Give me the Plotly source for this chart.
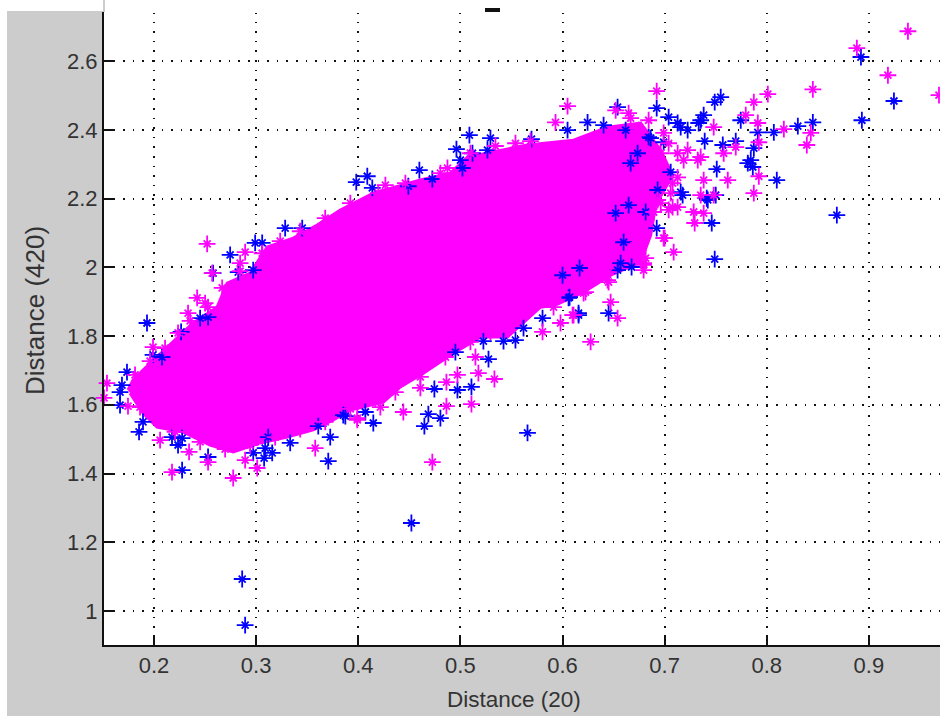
import plotly.graph_objects as go

x_label = "Distance (20)"
y_label = "Distance (420)"
x_ticks = [0.2, 0.3, 0.4, 0.5, 0.6, 0.7, 0.8, 0.9]
y_ticks = [1, 1.2, 1.4, 1.6, 1.8, 2, 2.2, 2.4, 2.6]
y_tick_text = ["1", "1.2", "1.4", "1.6", "1.8", "2", "2.2", "2.4", "2.6"]

BLUE = "#0000ff"
MAGENTA = "#ff00ff"

# Outline of the solid region where the points overlap completely
mass_x = [.1745,.1794,.1892,.2127,.2382,.2618,.2716,.2941,.3108,.3363,.3598,.3824,.4147,.4608,.4902,.5069,.5392,.5657,.6108,.6441,.6765,
          .6961,.7078,.6912,.6863,.6765,.6471,.6206,.5931,.5784,.5461,.5196,.4931,.4637,.4412,.4245,.3922,.3755,.3559,.3304,.3039,.2775,.2549,.2284,.2029,.1892,.1765]
mass_y = [1.643,1.672,1.701,1.768,1.838,1.884,1.954,1.983,2.059,2.085,2.123,2.167,2.216,2.254,2.274,2.321,2.341,2.356,2.370,2.408,2.420,
          2.341,2.268,2.181,2.094,2.015,1.977,1.928,1.890,1.884,1.797,1.797,1.750,1.692,1.652,1.608,1.585,1.556,1.527,1.506,1.489,1.463,1.483,1.521,1.535,1.576,1.634]

blue_x = [.1735,.1686,.1667,.1667,.1892,.1853,.1990,.2078,.2176,.2275,.2235,.2529,.2275,.2971,.3088,.3157,.3078,.3118,.3333,.3608,.3725,.3706,.3873,.4069,.4147,
          .1931,.2265,.2529,.2451,.2745,.2990,.3059,.3284,.3451,.2578,.2971,.2824,.3980,.4088,.4137,.4490,.4598,.4725,.4961,.5000,.5020,.5088,.5118,.5294,.5265,.5696,.6049,.6245,.6402,.6539,.6618,
          .6922,.7039,.7157,.7225,.7353,.7382,.7333,.7490,.7549,.7745,.7912,.8069,.8304,.8451,.8931,.9245,.8922,.7392,.7569,.7696,.7873,.7843,.7814,.7863,.7510,.8098,.7176,.7412,.7500,.6814,.6922,.7461,.8686,.7490,.6676,.6569,.6863,
          .2863,.2892,.4520,.3853,.4686,.4647,.4804,.4745,.4971,.5108,.5657,.5275,.5225,.5422,.5539,.5618,.5804,.6059,.6157,.6451,.4951,
          .6167,.6069,.6157,.6598,.6539,.6000,.6520,.6647,.6843,.6990,.7127,.6735,.7059,.6667,.6931,.7157,.7422]
blue_y = [1.695,1.657,1.637,1.599,1.550,1.521,1.745,1.739,1.506,1.503,1.483,1.448,1.410,1.460,1.474,1.460,1.445,1.506,1.489,1.538,1.506,1.436,1.567,1.579,1.547,
          1.838,1.812,1.855,1.852,2.036,2.071,2.071,2.114,2.114,1.983,1.992,1.986,2.248,2.265,2.231,2.236,2.283,2.257,2.344,2.312,2.289,2.385,2.332,2.376,2.341,2.373,2.399,2.422,2.414,2.466,2.399,
          2.463,2.437,2.408,2.399,2.428,2.443,2.420,2.481,2.495,2.428,2.393,2.393,2.411,2.422,2.428,2.484,2.612,2.367,2.356,2.367,2.347,2.312,2.303,2.292,2.286,2.254,2.210,2.201,2.210,2.161,2.114,2.129,2.152,2.024,2.001,2.012,2.376,
          1.093,.959,1.256,1.570,1.573,1.538,1.561,1.646,1.643,1.652,1.518,1.733,1.785,1.785,1.788,1.823,1.852,1.911,1.861,1.867,1.753,
          1.998,1.913,1.867,2.073,1.992,1.977,2.158,2.181,2.379,2.364,2.420,2.332,2.277,2.303,2.225,2.219,2.196]

magenta_x = [.1990,.1539,.1510,.1745,.2059,.2343,.2176,.2529,.2775,.3010,.2892,.3578,.3990,.2520,.2422,.2333,.2529,.2843,.2892,.2569,.4265,.4873,.5539,.5931,.6049,.6520,.6667,.6922,.6843,.6745,
             .7480,.7873,.8010,.8451,.9186,.8882,.9382,.9686,.7794,.7912,.8167,.8431,.8392,.7922,.7696,.7578,.7618,.7922,.7873,.7284,.7382,.7294,.7000,.7088,.6745,.6794,.6794,.6451,.6441,.7039,.7127,.7353,.7382,.7225,.7480,.7353,.7078,.6961,.7127,.6990,
             .2745,.3990,.4441,.4216,.4608,.4863,.5108,.4725,.4863,.4971,.5176,.5333,.5147,.5804,.5980,.6098,.6206,.6471,.6539,.6275,.6451,
             .6990,.6794,.6225,.6108,.6765,.6696,.6892,.7078,.6275,.5912,.6814,.6765,.6647,.7186,.7059,.7324,.6961,.7127,.6931,.7039,
             .1814,.1961,.2108,.2235,.2353,.2500,.2667,.2843,.3059,.3235,.3431,.3676,.3922,.4196,.4461,.4804,.5098,.5343,.5686,
             .1863,.2010,.2206,.2451,.2696,.2941,.3186,.3431,.3676,.3922,.4167,.4363,.4608,.4853,.5098,.5294,.5539,.5735,.5980]
magenta_y = [1.768,1.663,1.620,1.596,1.497,1.463,1.404,1.433,1.387,1.416,1.439,1.474,1.561,2.068,1.911,1.867,1.884,2.012,2.044,1.983,2.239,2.289,2.361,2.422,2.469,2.457,2.434,2.513,2.428,2.399,
             2.408,2.481,2.504,2.518,2.559,2.638,2.687,2.501,2.443,2.420,2.402,2.391,2.356,2.364,2.350,2.332,2.254,2.265,2.216,2.161,2.158,2.129,2.085,2.044,2.071,2.012,1.992,1.986,1.963,2.167,2.175,2.321,2.254,2.341,2.210,2.210,2.245,2.187,2.332,2.391,
             .899,1.556,1.579,1.593,1.649,1.596,1.602,1.433,1.666,1.687,1.692,1.675,1.739,1.812,1.838,1.861,1.925,1.899,1.852,1.783,1.957,
             2.085,2.007,1.928,1.861,2.071,2.117,2.161,2.175,1.972,1.884,2.027,2.393,2.449,2.312,2.216,2.312,2.332,2.262,2.196,2.361,
             1.687,1.727,1.765,1.809,1.844,1.896,1.940,1.989,2.041,2.076,2.105,2.143,2.187,2.216,2.245,2.274,2.332,2.353,2.367,
             1.593,1.564,1.521,1.492,1.471,1.483,1.506,1.529,1.550,1.588,1.617,1.637,1.681,1.739,1.783,1.812,1.855,1.899,1.928]


def star_traces(xs, ys, color, name):
    # MATLAB's '*' at low resolution: long upright arms, short diagonal arms
    return [
        go.Scatter(x=xs, y=ys, mode="markers", name=name, cliponaxis=False, showlegend=False,
                   marker=dict(symbol="cross-thin-open", size=12, color=color, line=dict(color=color, width=1.8))),
        go.Scatter(x=xs, y=ys, mode="markers", name=name, cliponaxis=False, showlegend=False,
                   marker=dict(symbol="x-thin-open", size=7, color=color, line=dict(color=color, width=1.8))),
    ]


fig = go.Figure()
fig.add_trace(go.Scatter(x=mass_x, y=mass_y, mode="lines", fill="toself", fillcolor=MAGENTA,
                         line=dict(color=MAGENTA, width=3), showlegend=False, hoverinfo="skip"))
fig.add_traces(star_traces(blue_x, blue_y, BLUE, "blue"))
fig.add_traces(star_traces(magenta_x, magenta_y, MAGENTA, "magenta"))

W, H = 836, 633
axis_common = dict(
    showline=True, linecolor="#111111", linewidth=2,
    ticks="inside", ticklen=10, tickwidth=1.5, tickcolor="#111111",
    showgrid=True, gridcolor="#111111", griddash="1.6px,8px", gridwidth=1.6,
    zeroline=False,
    tickfont=dict(family="Liberation Sans, Arial, sans-serif", size=22, color="#333333"),
)
fig.update_xaxes(range=[0.151, 0.9696], tickmode="array", tickvals=x_ticks,
                 ticktext=[str(t) for t in x_ticks], **axis_common)
fig.update_yaxes(range=[0.901, 2.743], tickmode="array", tickvals=y_ticks, ticktext=y_tick_text, **axis_common)

fs = dict(family="Liberation Sans, Arial, sans-serif", color="#333333")
fig.update_layout(
    width=940, height=716, autosize=False,
    margin=dict(l=104, r=0, t=12, b=71, pad=0),
    paper_bgcolor="#cccccc", plot_bgcolor="#ffffff", showlegend=False,
    shapes=[
        dict(type="rect", xref="paper", yref="paper", x0=-104/W, x1=-97/W, y0=-71/H, y1=645/H + 0.001,
             fillcolor="#ffffff", line_width=0, layer="above"),
        dict(type="rect", xref="paper", yref="paper", x0=-104/W, x1=-1/W, y0=634/H, y1=645/H,
             fillcolor="#ffffff", line_width=0, layer="above"),
        dict(type="rect", xref="paper", yref="paper", x0=1/W, x1=1, y0=632/H, y1=645/H,
             fillcolor="#ffffff", line_width=0, layer="above"),
        dict(type="rect", xref="paper", yref="paper", x0=381/W, x1=396/W, y0=633/H, y1=637/H,
             fillcolor="#111111", line_width=0, layer="above"),
    ],
    annotations=[
        dict(text=x_label, xref="paper", yref="paper", x=(514-104)/W, y=(645-699)/H, showarrow=False,
             xanchor="center", yanchor="middle", font=dict(size=22.5, **fs)),
        dict(text=y_label, xref="paper", yref="paper", x=(35-104)/W, y=(645-311)/H, showarrow=False,
             textangle=-90, xanchor="center", yanchor="middle", font=dict(size=26, **fs)),
    ],
)

fig.write_html("out.html", config={"displayModeBar": False},
               post_script="document.body.style.margin='0';document.body.style.overflow='hidden';")
